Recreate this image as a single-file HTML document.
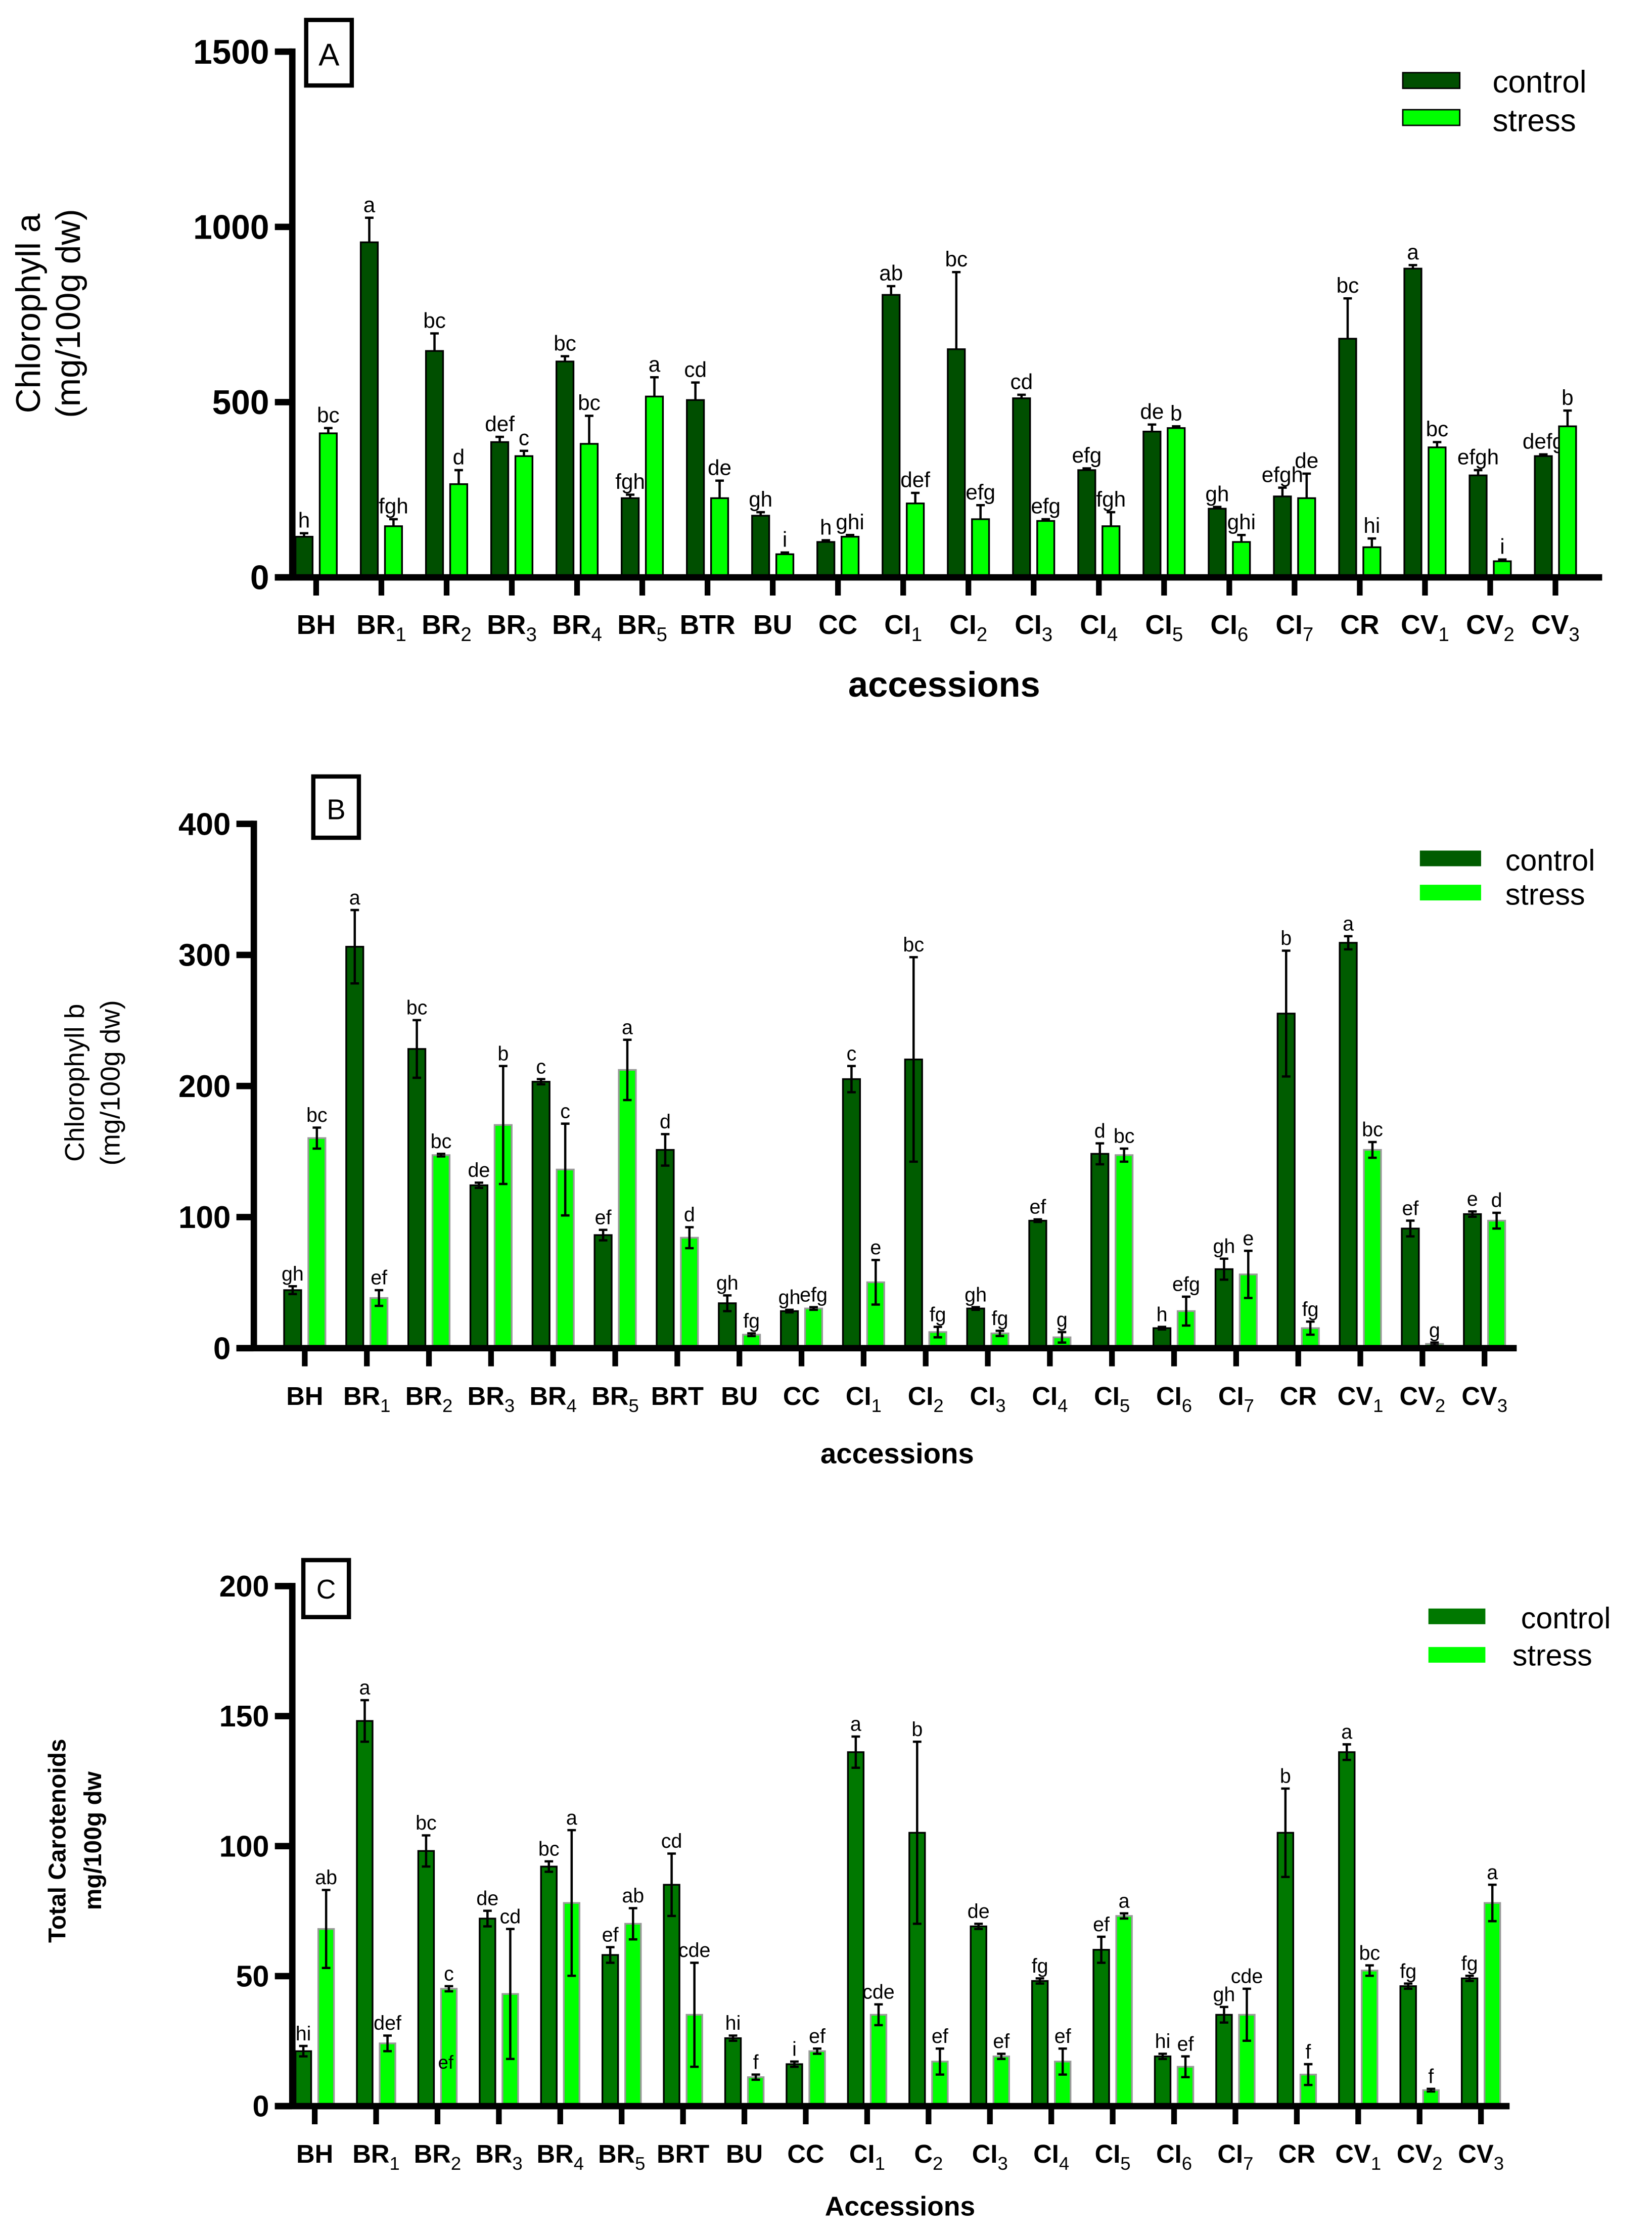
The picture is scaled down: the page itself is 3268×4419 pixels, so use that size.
<!DOCTYPE html>
<html><head><meta charset="utf-8"><style>
html,body{margin:0;padding:0;background:#fff;}
svg{display:block;}
text{font-family:"Liberation Sans",Arial,sans-serif;}
</style></head><body>
<svg id="chart" width="3268" height="4419" viewBox="0 0 1160 1568" preserveAspectRatio="none" xmlns="http://www.w3.org/2000/svg">
<rect width="1160" height="1568" fill="#fff"/>
</svg>
<script>
const catsA = ["BH","BR|1","BR|2","BR|3","BR|4","BR|5","BTR","BU","CC","CI|1","CI|2","CI|3","CI|4","CI|5","CI|6","CI|7","CR","CV|1","CV|2","CV|3"];
const ctrlA = [115,955,645,385,615,225,505,175,100,805,650,510,305,415,195,230,680,880,290,345];
const strA  = [410,145,265,345,380,515,225,65,115,210,165,160,145,425,100,225,85,370,45,430];
const ctrlErrA = [10,70,50,15,15,10,50,10,5,25,220,10,5,20,5,25,115,10,15,5];
const strErrA  = [15,20,40,15,80,55,50,5,5,30,40,5,40,5,20,70,25,15,5,45];
const ctrlLetA = ["h","a","bc","def","bc","fgh","cd","gh","h","ab","bc","cd","efg","de","gh","efgh","bc","a","efgh","defg"];
const strLetA  = ["bc","fgh","d","c","bc","a","de","i","ghi","def","efg","efg","fgh","b","ghi","de","hi","bc","i","b"];
const ticksA = [0,500,1000,1500];

const catsB = ["BH","BR|1","BR|2","BR|3","BR|4","BR|5","BRT","BU","CC","CI|1","CI|2","CI|3","CI|4","CI|5","CI|6","CI|7","CR","CV|1","CV|2","CV|3"];
const ctrlB = [44,306,228,124,203,86,151,34,28,205,220,30,97,148,15,60,255,309,91,102];
const strB  = [160,38,147,170,136,212,84,10,30,50,12,11,8,147,28,56,15,151,3,97];
const ctrlErrB = [3,28,22,2,2,4,12,6,1,10,78,1,1,8,1,8,48,5,6,2];
const strErrB  = [8,6,1,45,35,23,8,1,1,17,4,2,4,5,11,18,5,6,1,6];
const ctrlLetB = ["gh","a","bc","de","c","ef","d","gh","gh","c","bc","gh","ef","d","h","gh","b","a","ef","e"];
const strLetB  = ["bc","ef","bc","b","c","a","d","fg","efg","e","fg","fg","g","bc","efg","e","fg","bc","g","d"];
const ticksB = [0,100,200,300,400];

const catsC = ["BH","BR|1","BR|2","BR|3","BR|4","BR|5","BRT","BU","CC","CI|1","C|2","CI|3","CI|4","CI|5","CI|6","CI|7","CR","CV|1","CV|2","CV|3"];
const ctrlC = [21,148,98,72,92,58,85,26,16,136,105,69,48,60,19,35,105,136,46,49];
const strC  = [68,24,45,43,78,70,35,11,21,35,17,19,17,73,15,35,12,52,6,78];
const ctrlErrC = [2,8,6,3,2,3,12,1,1,6,35,1,1,5,1,3,17,3,1,1];
const strErrC  = [15,3,1,25,28,6,20,1,1,4,5,1,5,1,4,10,4,2,0.5,7];
const ctrlLetC = ["hi","a","bc","de","bc","ef","cd","hi","i","a","b","de","fg","ef","hi","gh","b","a","fg","fg"];
const strLetC  = ["ab","def","c","cd","a","ab","cde","f","ef","cde","ef","ef","ef","a","ef","cde","f","bc","f","a"];
const ticksC = [0,50,100,150,200];

const svg = document.getElementById('chart');
const NS = "http://www.w3.org/2000/svg";
function mk(tag, attrs, parent){ const e=document.createElementNS(NS,tag); for(const k in attrs) e.setAttribute(k,attrs[k]); (parent||svg).appendChild(e); return e; }

function panel(o){
  const g = mk('g',{});
  
  
  const yS = v => o.y0 - (v/o.ymax)*(o.y0-o.yTop);
  const xS = i => o.c0 + i*o.step;
  o.cats.forEach((c,i)=>{
    const cx = xS(i);
    [[o.ctrl,o.ce,o.cl,o.cc,-1,'control'],[o.str,o.se,o.sl,'#00ff00',1,'stress']].forEach(s=>{
      const v=s[0][i], e=s[1][i];
      const bx = s[4]<0 ? cx-o.gap/2-o.bw : cx+o.gap/2;
      const r = mk('rect',{x:bx,y:yS(v),width:o.bw,height:o.y0-yS(v),fill:s[3],stroke:(s[5]==='stress'&&o.grayS)?'#999':'#000','stroke-width':1.2},g);
      
      
      const mx = bx+o.bw/2;
      const lo = o.both ? yS(v-e) : yS(v);
      const eb = mk('path',{d:`M${mx},${lo}V${yS(v+e)}M${mx-3},${yS(v+e)}H${mx+3}`+(o.both?`M${mx-3},${lo}H${mx+3}`:''),stroke:'#000','stroke-width':1.6,fill:'none'},g);
      
      
      const t = mk('text',{x:mx,y:yS(v+e)-4,'text-anchor':'middle','font-size':o.lf},g);
      t.textContent = s[2][i];
      
      
    });
    mk('rect',{x:cx-2,y:o.y0,width:4,height:13},g);
    const parts=c.split('|');
    const lt = mk('text',{x:cx,y:o.y0+o.xlOff,'text-anchor':'middle','font-size':o.xf,'font-weight':'bold'},g);
    
    
    lt.appendChild(document.createTextNode(parts[0]));
    if(parts[1]){ const sp=mk('tspan',{'font-size':o.xf*0.72,'font-weight':'normal',dy:5},lt); sp.textContent=parts[1]; }
  });
  const ya = mk('rect',{x:o.x0-2,y:o.yTop-2,width:4.5,height:o.y0-o.yTop+4},g);
   
  const xa = mk('rect',{x:o.x0-12,y:o.y0-2,width:o.x1-o.x0+12,height:4.5},g);
   
  o.ticks.forEach(t=>{
    mk('rect',{x:o.x0-12,y:yS(t)-2,width:12,height:4.5},g);
    const tl = mk('text',{x:o.x0-16,y:yS(t)+o.tf*0.36,'text-anchor':'end','font-size':o.tf,'font-weight':'bold'},g);
    tl.textContent = t;
    
    
  });
  return g;
}

panel({name:'panel-a-chlorophyll-a',cats:catsA,ctrl:ctrlA,str:strA,ce:ctrlErrA,se:strErrA,cl:ctrlLetA,sl:strLetA,ticks:ticksA,
  ymax:1500,y0:405,yTop:36,x0:205,x1:1125,c0:222,step:45.8,bw:12,gap:5,cc:'#004f00',grayS:false,both:false,lf:15,xf:19,tf:24,xlOff:40});
panel({name:'panel-b-chlorophyll-b',cats:catsB,ctrl:ctrlB,str:strB,ce:ctrlErrB,se:strErrB,cl:ctrlLetB,sl:strLetB,ticks:ticksB,
  ymax:400,y0:946,yTop:578,x0:178,x1:1065,c0:214,step:43.6,bw:12,gap:5,cc:'#005c00',grayS:true,both:true,lf:14,xf:18,tf:22,xlOff:40});
panel({name:'panel-c-carotenoids',cats:catsC,ctrl:ctrlC,str:strC,ce:ctrlErrC,se:strErrC,cl:ctrlLetC,sl:strLetC,ticks:ticksC,
  ymax:200,y0:1478,yTop:1113,x0:205,x1:1060,c0:221,step:43.1,bw:11,gap:5,cc:'#007800',grayS:true,both:true,lf:14,xf:18,tf:21,xlOff:40});
</script>
<svg style="position:absolute;left:0;top:0" width="3268" height="4419" viewBox="0 0 1160 1568" preserveAspectRatio="none" xmlns="http://www.w3.org/2000/svg">
<g font-family="Liberation Sans, Arial, sans-serif">
<rect x="215" y="14" width="32" height="46" fill="none" stroke="#000" stroke-width="3"/>
<text x="231" y="46" text-anchor="middle" font-size="22">A</text>
<text transform="translate(28,220) rotate(-90)" text-anchor="middle" font-size="24">Chlorophyll a</text>
<text transform="translate(56,220) rotate(-90)" text-anchor="middle" font-size="24">(mg/100g dw)</text>
<text x="663" y="489" text-anchor="middle" font-size="25" font-weight="bold">accessions</text>
<rect x="985" y="51" width="40" height="11" fill="#004f00" stroke="#000"/>
<text x="1048" y="65" font-size="22">control</text>
<rect x="985" y="77" width="40" height="11" fill="#00ff00" stroke="#000"/>
<text x="1048" y="92" font-size="22">stress</text>
<rect x="220" y="545" width="32" height="43" fill="none" stroke="#000" stroke-width="3"/>
<text x="236" y="575" text-anchor="middle" font-size="20">B</text>
<text transform="translate(59,760) rotate(-90)" text-anchor="middle" font-size="19">Chlorophyll b</text>
<text transform="translate(84,760) rotate(-90)" text-anchor="middle" font-size="19">(mg/100g dw)</text>
<text x="630" y="1027" text-anchor="middle" font-size="20" font-weight="bold">accessions</text>
<rect x="997" y="597" width="43" height="11" fill="#005c00"/>
<text x="1057" y="611" font-size="21">control</text>
<rect x="997" y="621" width="43" height="11" fill="#00ff00"/>
<text x="1057" y="635" font-size="21">stress</text>
<rect x="213" y="1095" width="32" height="40" fill="none" stroke="#000" stroke-width="3"/>
<text x="229" y="1122" text-anchor="middle" font-size="19">C</text>
<text transform="translate(46,1292) rotate(-90)" text-anchor="middle" font-size="17" font-weight="bold">Total Carotenoids</text>
<text transform="translate(71,1292) rotate(-90)" text-anchor="middle" font-size="17" font-weight="bold">mg/100g dw</text>
<text x="632" y="1555" text-anchor="middle" font-size="19" font-weight="bold">Accessions</text>
<rect x="1003" y="1129" width="40" height="11" fill="#007800"/>
<text x="1068" y="1143" font-size="21">control</text>
<rect x="1003" y="1156" width="40" height="11" fill="#00ff00"/>
<text x="1062" y="1169" font-size="21">stress</text>
<text x="313" y="1452" text-anchor="middle" font-size="13">ef</text>
</g>
</svg>
</body></html>
